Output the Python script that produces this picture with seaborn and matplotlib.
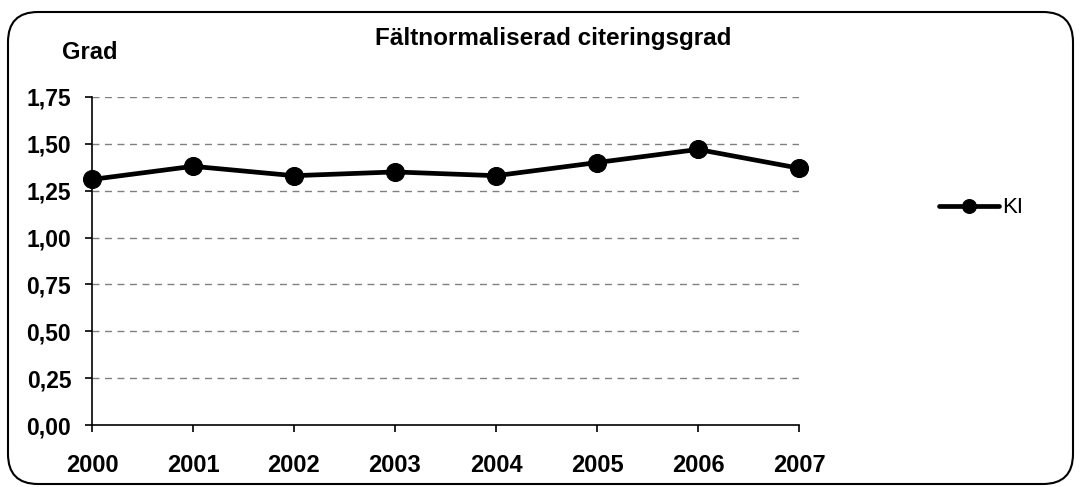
import numpy as np
import pandas as pd
import seaborn as sns
import matplotlib.pyplot as plt
from matplotlib.patches import FancyBboxPatch

# Data
years = [2000, 2001, 2002, 2003, 2004, 2005, 2006, 2007]
ki_values = [1.31, 1.38, 1.33, 1.35, 1.33, 1.40, 1.47, 1.37]
y_ticks = [0.00, 0.25, 0.50, 0.75, 1.00, 1.25, 1.50, 1.75]
y_tick_labels = ['0,00', '0,25', '0,50', '0,75', '1,00', '1,25', '1,50', '1,75']

df = pd.DataFrame({'År': years, 'KI': ki_values})

sns.set_theme(style='white')
plt.rcParams['font.family'] = ['Liberation Sans', 'DejaVu Sans']
plt.rcParams['text.color'] = 'black'
plt.rcParams['xtick.color'] = 'black'
plt.rcParams['ytick.color'] = 'black'

fig = plt.figure(figsize=(10.81, 4.87), dpi=100)
ax = fig.add_axes([0.0851, 0.127, 0.654, 0.674])

# Rounded border around the whole chart (pixel coordinates)
border = FancyBboxPatch((8, 3), 1065, 472,
                        boxstyle='round,pad=0,rounding_size=30',
                        transform=None, fill=False,
                        edgecolor='black', linewidth=1.5)
fig.patches.append(border)

sns.lineplot(data=df, x='År', y='KI', ax=ax, color='black', linewidth=3.4,
             marker='o', markersize=13, markeredgecolor='black',
             label='KI', clip_on=False)

ax.set_xlim(2000, 2007)
ax.set_ylim(0, 1.75)
ax.set_xticks(years)
ax.set_xticklabels([str(y) for y in years], fontsize=17, fontweight='bold')
ax.set_yticks(y_ticks)
ax.set_yticklabels(y_tick_labels, fontsize=16.5, fontweight='bold')
ax.set_xlabel('')
ax.set_ylabel('')

for yv in y_ticks[1:]:
    ax.axhline(yv, color='#808080', linestyle=(0, (5, 4)), linewidth=1, zorder=0)

for side in ['top', 'right']:
    ax.spines[side].set_visible(False)
for side in ['left', 'bottom']:
    ax.spines[side].set_color('black')
    ax.spines[side].set_linewidth(1.2)

ax.tick_params(axis='y', which='major', direction='out', length=5, width=1.2,
               color='black', pad=10, left=True)
ax.tick_params(axis='x', which='major', direction='out', length=5, width=1.2,
               color='black', pad=16, bottom=True)

fig.text(0.512, 0.92, 'Fältnormaliserad citeringsgrad', ha='center', va='center',
         fontsize=17.5, fontweight='bold')
fig.text(0.083, 0.893, 'Grad', ha='center', va='center', fontsize=17, fontweight='bold')

legend = ax.legend(loc='center left', bbox_to_anchor=(1.198, 0.662), frameon=False,
                   fontsize=16, handlelength=2.7, handletextpad=0.15,
                   borderpad=0, borderaxespad=0)
for h in legend.legend_handles:
    h.set_markersize(10)

plt.savefig('out.png', dpi=100)
